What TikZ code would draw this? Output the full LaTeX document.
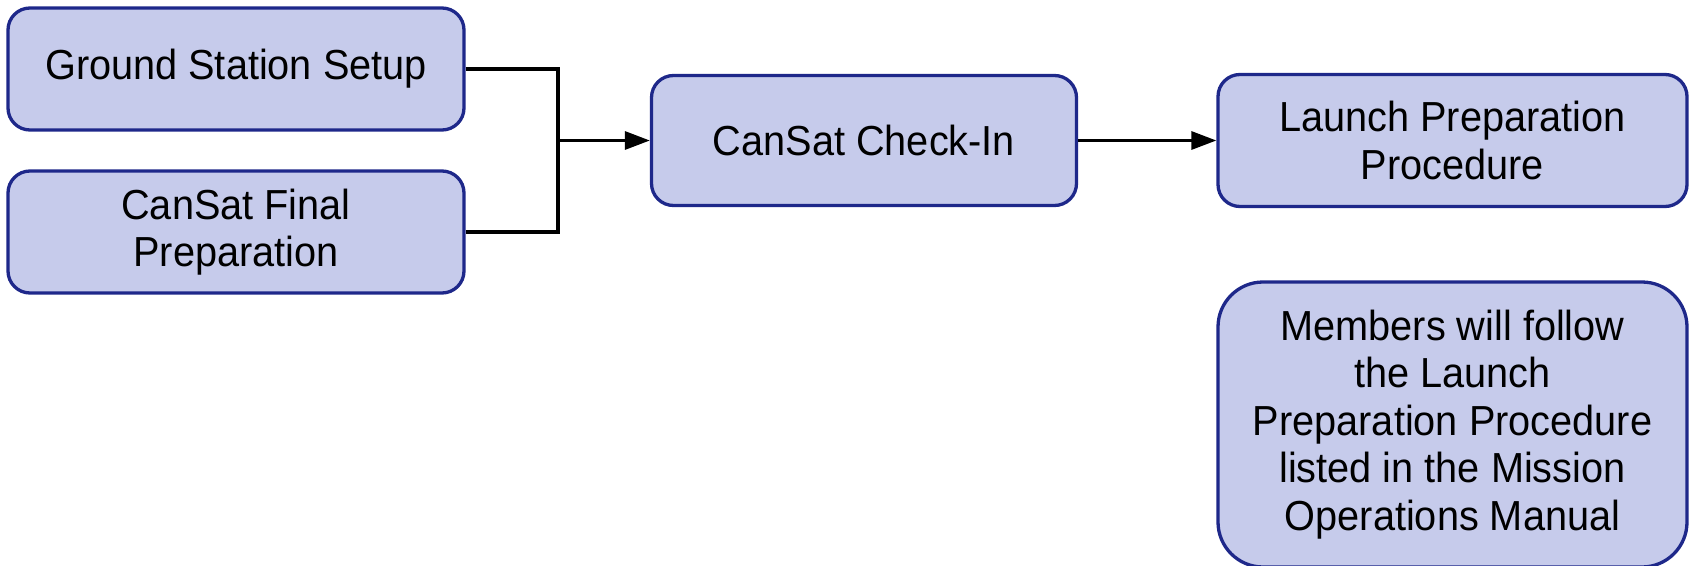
\documentclass[tikz,border=0pt]{standalone}
\usepackage{fontspec}
\setmainfont{Liberation Sans}[FakeStretch=0.945]
\usetikzlibrary{arrows.meta}
\definecolor{boxfill}{HTML}{C6CBEB}
\definecolor{boxline}{HTML}{1E288A}
\begin{document}
\begin{tikzpicture}[x=1pt,y=-1pt,
  box/.style={draw=boxline, fill=boxfill, line width=3.3pt, rounded corners=22pt,
    align=center, inner sep=0pt, font=\fontsize{42}{47.5}\selectfont},
  conn/.style={draw=black, line width=3.2pt},
  arr/.style={conn, -{Triangle[length=25pt,width=18pt]}}]
\useasboundingbox (0,0) rectangle (1694,565);
\node[box, minimum width=456pt, minimum height=122pt] (gs) at (236,69) {Ground Station Setup};
\node[box, minimum width=456pt, minimum height=122pt] (cf) at (236,232) {CanSat Final\\Preparation};
\node[box, minimum width=425pt, minimum height=130pt] (ci) at (864,140.5) {CanSat Check-In};
\node[box, minimum width=469pt, minimum height=132pt] (lp) at (1452.5,140.5) {Launch Preparation\\Procedure};
\node[box, rounded corners=45pt, minimum width=469pt, minimum height=285pt] (mb) at (1452.5,424.5) {Members will follow\\the Launch\\Preparation Procedure\\listed in the Mission\\Operations Manual};
\coordinate (j) at (558,140.5);
\draw[conn] (gs.east) -| (j);
\draw[conn] (cf.east) -| (j);
\draw[arr] (j) -- (ci.west);
\draw[arr] (ci.east) -- (lp.west);
\end{tikzpicture}
\end{document}
